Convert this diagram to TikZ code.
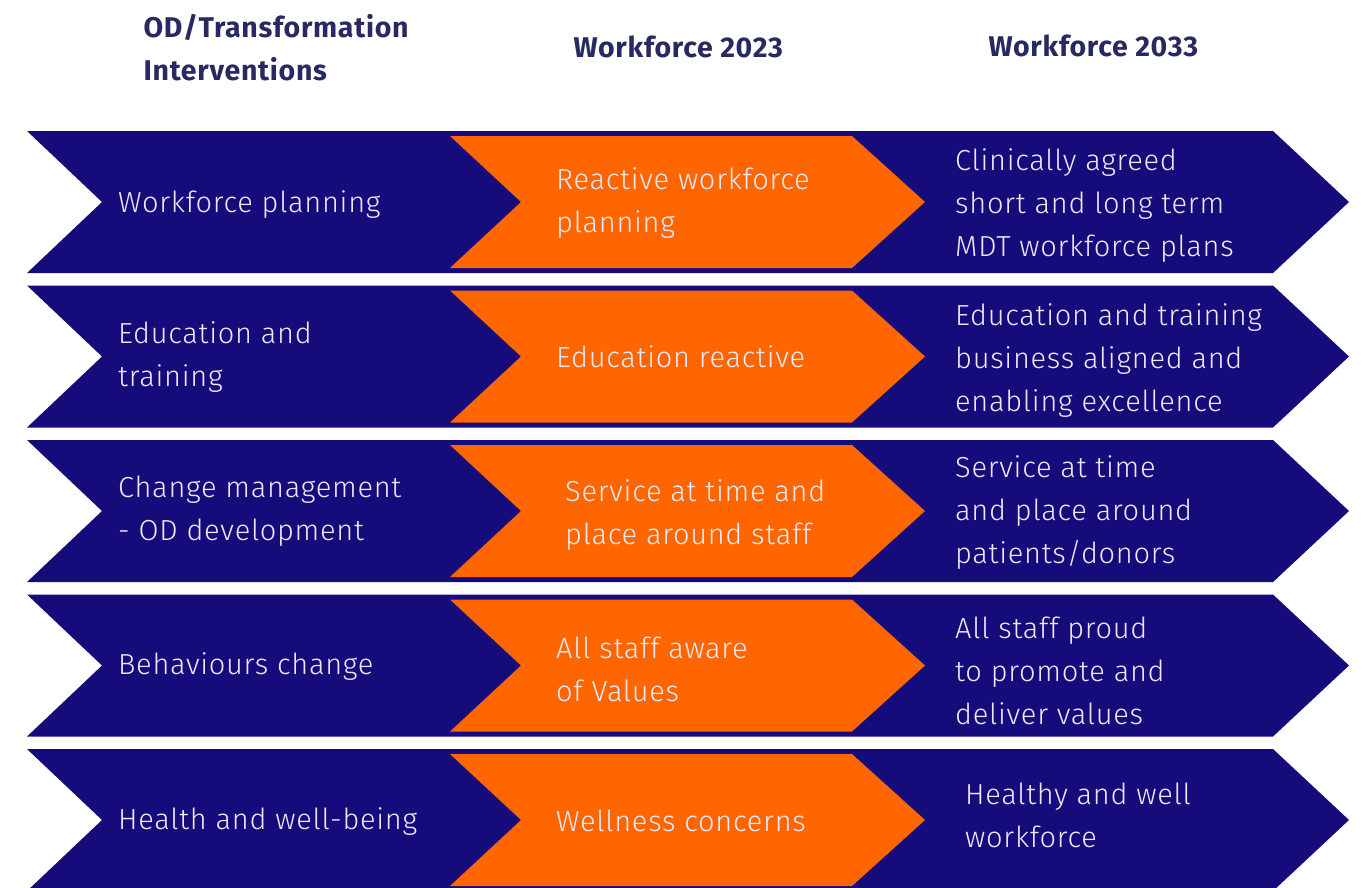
\documentclass[tikz,border=0pt]{standalone}
\usepackage{fontspec}
\setmainfont{Fira Sans}[UprightFont={* Light},BoldFont={* Bold}]
\definecolor{navyband}{RGB}{22,11,122}
\definecolor{orangeband}{RGB}{255,102,0}
\definecolor{headink}{RGB}{40,40,98}
\definecolor{paleink}{RGB}{236,234,248}

\begin{document}
\begin{tikzpicture}[x=1pt,y=-1pt,
  head/.style={anchor=west,align=left,text=headink,font=\fontsize{28.5}{43}\selectfont\bfseries\addfontfeature{LetterSpace=2.5}},
  cell/.style={anchor=west,align=left,text=paleink,inner sep=0pt,yshift=-3pt,font=\fontsize{29}{43}\selectfont\addfontfeature{LetterSpace=2.5}},
  band/.style={fill=navyband},
  stage/.style={fill=orangeband}]
\useasboundingbox (0,0) rectangle (1364,887);
% chevrons, one row every 154.5px
\foreach \t in {131,285.5,440,594.5,749}{
  \fill[band] (27,\t) -- (1273,\t) -- (1349,\t+71) -- (1273,\t+142) -- (27,\t+142) -- (102,\t+71) -- cycle;
  \fill[stage] (450,\t+5) -- (852,\t+5) -- (925,\t+71) -- (852,\t+137) -- (450,\t+137) -- (521,\t+71) -- cycle;
}
% column heads
\node[head] (hodt) at (140,48) {OD/Transformation\\Interventions};
\node[head] (h23) at (570,47) {Workforce 2023};
\node[head] (h33) at (985,46) {Workforce 2033};
% row 1
\node[cell] (r1a) at (118,202) {Workforce planning};
\node[cell] (r1b) at (556,200) {Reactive workforce\\planning};
\node[cell] (r1c) at (955,203) {Clinically agreed\\short and long term\\MDT workforce plans};
% row 2
\node[cell] (r2a) at (118,354) {Education and\\training};
\node[cell] (r2b) at (556,354) {Education reactive};
\node[cell] (r2c) at (955,358) {Education and training\\business aligned and\\enabling excellence};
% row 3
\node[cell] (r3a) at (118,508) {Change management\\- OD development};
\node[cell] (r3b) at (565,512) {Service at time and\\place around staff};
\node[cell] (r3c) at (955,510) {Service at time\\and place around\\patients/donors};
% row 4
\node[cell] (r4a) at (118,664) {Behaviours change};
\node[cell] (r4b) at (556,666) {All staff aware\\of Values};
\node[cell] (r4c) at (955,668) {All staff proud\\to promote and\\deliver values};
% row 5
\node[cell] (r5a) at (118,819) {Health and well-being};
\node[cell] (r5b) at (556,818) {Wellness concerns};
\node[cell] (r5c) at (965,812) {Healthy and well\\workforce};
\end{tikzpicture}
\end{document}
